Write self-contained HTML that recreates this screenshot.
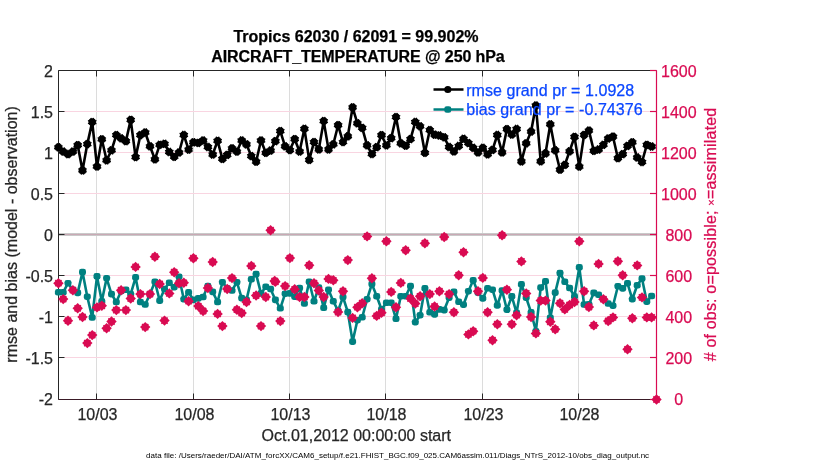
<!DOCTYPE html>
<html lang="en"><head><meta charset="utf-8"><title>AIRCRAFT_TEMPERATURE @ 250 hPa</title>
<style>text{stroke-width:0.25px;paint-order:stroke}html,body{margin:0;padding:0;background:#fff}body{width:830px;height:470px;overflow:hidden}svg{display:block}</style>
</head><body>
<svg width="830" height="470" viewBox="0 0 830 470">
<rect width="830" height="470" fill="#fff"/>
<g stroke="#dcdcdc" stroke-width="1" shape-rendering="crispEdges">
<line x1="96.5" y1="70.5" x2="96.5" y2="399.5"/>
<line x1="193.5" y1="70.5" x2="193.5" y2="399.5"/>
<line x1="289.5" y1="70.5" x2="289.5" y2="399.5"/>
<line x1="385.5" y1="70.5" x2="385.5" y2="399.5"/>
<line x1="482.5" y1="70.5" x2="482.5" y2="399.5"/>
<line x1="578.5" y1="70.5" x2="578.5" y2="399.5"/>
</g>
<g stroke="#f9d5e1" stroke-width="1" shape-rendering="crispEdges">
<line x1="58.5" y1="111.5" x2="656.5" y2="111.5"/>
<line x1="58.5" y1="152.5" x2="656.5" y2="152.5"/>
<line x1="58.5" y1="193.5" x2="656.5" y2="193.5"/>
<line x1="58.5" y1="234.5" x2="656.5" y2="234.5"/>
<line x1="58.5" y1="275.5" x2="656.5" y2="275.5"/>
<line x1="58.5" y1="316.5" x2="656.5" y2="316.5"/>
<line x1="58.5" y1="357.5" x2="656.5" y2="357.5"/>
</g>
<line x1="58.5" y1="234.5" x2="656.5" y2="234.5" stroke="#c9c9c9" stroke-width="3"/>
<line x1="58.5" y1="234.5" x2="656.5" y2="234.5" stroke="#c9a9b5" stroke-width="1"/>
<g stroke="#262626" stroke-width="1" fill="none">
<path d="M58.5 399.5V70.5H656.5"/>
<path d="M96.5 70.5v6M96.5 399.5v-6"/>
<path d="M193.5 70.5v6M193.5 399.5v-6"/>
<path d="M289.5 70.5v6M289.5 399.5v-6"/>
<path d="M385.5 70.5v6M385.5 399.5v-6"/>
<path d="M482.5 70.5v6M482.5 399.5v-6"/>
<path d="M578.5 70.5v6M578.5 399.5v-6"/>
<path d="M58.5 70.5h6"/>
<path d="M58.5 111.5h6"/>
<path d="M58.5 152.5h6"/>
<path d="M58.5 193.5h6"/>
<path d="M58.5 234.5h6"/>
<path d="M58.5 275.5h6"/>
<path d="M58.5 316.5h6"/>
<path d="M58.5 357.5h6"/>
<path d="M58.5 399.5h6"/>
</g>
<path d="M58.5 399.5H656.5" stroke="#3a1a26" stroke-width="1.1" fill="none"/>
<g stroke="#D90B52" stroke-width="1.2" fill="none">
<path d="M656.5 70.5V399.5"/>
<path d="M656.5 70.5h-6.5"/>
<path d="M656.5 111.5h-6.5"/>
<path d="M656.5 152.5h-6.5"/>
<path d="M656.5 193.5h-6.5"/>
<path d="M656.5 234.5h-6.5"/>
<path d="M656.5 275.5h-6.5"/>
<path d="M656.5 316.5h-6.5"/>
<path d="M656.5 357.5h-6.5"/>
<path d="M656.5 399.5h-6.5"/>
</g>
<defs>
<g id="mb"><circle r="3.85"/><path d="M-4.25 -1.6L4.25 1.6M-4.25 1.6L4.25 -1.6M-1.3 -4.2L1.3 4.2M-1.3 4.2L1.3 -4.2" stroke="#000" stroke-width="1.2" fill="none"/></g>
<rect id="mt" x="-3.5" y="-3.3" width="7" height="6.6" rx="2.4" fill="#008080"/>
<g id="mr"><path d="M0 -5.2L5.2 0L0 5.2L-5.2 0Z" fill="#D90B52"/><path d="M-3.1 -3.1L3.1 3.1M-3.1 3.1L3.1 -3.1" stroke="#D90B52" stroke-width="1.6" fill="none"/></g>
</defs>
<polyline points="58.4,147.3 63.2,151.6 68.0,154.2 72.9,151.6 77.7,145.2 82.5,170.4 87.3,144.1 92.2,122.1 97.0,166.5 101.8,139.3 106.6,160.3 111.5,150.3 116.3,135.1 121.1,138.3 125.9,141.2 130.7,119.9 135.6,157.1 140.4,135.1 145.2,132.5 150.0,146.3 154.9,159.3 159.7,144.8 164.5,143.8 169.3,152.0 174.2,156.8 179.0,152.5 183.8,135.0 188.6,149.6 193.4,142.3 198.3,142.9 203.1,140.5 207.9,147.0 212.7,154.5 217.6,140.8 222.4,158.9 227.2,154.9 232.0,148.4 236.9,151.6 241.7,140.5 246.5,144.4 251.3,156.1 256.1,161.7 261.0,140.5 265.8,152.8 270.6,150.6 275.4,141.2 280.3,131.1 285.1,146.3 289.9,150.1 294.7,139.2 299.6,151.5 304.4,128.8 309.2,159.9 314.0,142.1 318.8,149.4 323.7,121.1 328.5,149.4 333.3,144.3 338.1,125.2 343.0,142.1 347.8,136.3 352.6,107.4 357.4,123.3 362.2,127.9 367.1,145.3 371.9,154.0 376.7,147.2 381.5,135.2 386.4,145.3 391.2,138.2 396.0,117.1 400.8,143.3 405.7,145.7 410.5,139.1 415.3,122.0 420.1,126.3 424.9,152.8 429.8,130.1 434.6,134.7 439.4,135.5 444.2,137.3 449.1,147.0 453.9,151.4 458.7,146.0 463.5,138.8 468.4,143.1 473.2,147.8 478.0,152.4 482.8,147.8 487.6,154.3 492.5,149.9 497.3,135.0 502.1,152.4 506.9,129.2 511.8,134.5 516.6,129.0 521.4,161.4 526.2,143.3 531.1,131.6 535.9,105.5 540.7,161.3 545.5,153.4 550.3,124.3 555.2,150.3 560.0,169.7 564.8,164.9 569.6,151.3 574.5,136.9 579.3,166.6 584.1,134.9 588.9,130.6 593.8,150.8 598.6,149.5 603.4,144.8 608.2,138.5 613.0,136.7 617.9,158.2 622.7,154.2 627.5,145.9 632.3,142.3 637.2,157.5 642.0,162.0 646.8,144.9 651.6,146.5" fill="none" stroke="#000" stroke-width="2.6" stroke-linejoin="round"/>
<g fill="#000">
<use href="#mb" x="58.4" y="147.3"/>
<use href="#mb" x="63.2" y="151.6"/>
<use href="#mb" x="68.0" y="154.2"/>
<use href="#mb" x="72.9" y="151.6"/>
<use href="#mb" x="77.7" y="145.2"/>
<use href="#mb" x="82.5" y="170.4"/>
<use href="#mb" x="87.3" y="144.1"/>
<use href="#mb" x="92.2" y="122.1"/>
<use href="#mb" x="97.0" y="166.5"/>
<use href="#mb" x="101.8" y="139.3"/>
<use href="#mb" x="106.6" y="160.3"/>
<use href="#mb" x="111.5" y="150.3"/>
<use href="#mb" x="116.3" y="135.1"/>
<use href="#mb" x="121.1" y="138.3"/>
<use href="#mb" x="125.9" y="141.2"/>
<use href="#mb" x="130.7" y="119.9"/>
<use href="#mb" x="135.6" y="157.1"/>
<use href="#mb" x="140.4" y="135.1"/>
<use href="#mb" x="145.2" y="132.5"/>
<use href="#mb" x="150.0" y="146.3"/>
<use href="#mb" x="154.9" y="159.3"/>
<use href="#mb" x="159.7" y="144.8"/>
<use href="#mb" x="164.5" y="143.8"/>
<use href="#mb" x="169.3" y="152.0"/>
<use href="#mb" x="174.2" y="156.8"/>
<use href="#mb" x="179.0" y="152.5"/>
<use href="#mb" x="183.8" y="135.0"/>
<use href="#mb" x="188.6" y="149.6"/>
<use href="#mb" x="193.4" y="142.3"/>
<use href="#mb" x="198.3" y="142.9"/>
<use href="#mb" x="203.1" y="140.5"/>
<use href="#mb" x="207.9" y="147.0"/>
<use href="#mb" x="212.7" y="154.5"/>
<use href="#mb" x="217.6" y="140.8"/>
<use href="#mb" x="222.4" y="158.9"/>
<use href="#mb" x="227.2" y="154.9"/>
<use href="#mb" x="232.0" y="148.4"/>
<use href="#mb" x="236.9" y="151.6"/>
<use href="#mb" x="241.7" y="140.5"/>
<use href="#mb" x="246.5" y="144.4"/>
<use href="#mb" x="251.3" y="156.1"/>
<use href="#mb" x="256.1" y="161.7"/>
<use href="#mb" x="261.0" y="140.5"/>
<use href="#mb" x="265.8" y="152.8"/>
<use href="#mb" x="270.6" y="150.6"/>
<use href="#mb" x="275.4" y="141.2"/>
<use href="#mb" x="280.3" y="131.1"/>
<use href="#mb" x="285.1" y="146.3"/>
<use href="#mb" x="289.9" y="150.1"/>
<use href="#mb" x="294.7" y="139.2"/>
<use href="#mb" x="299.6" y="151.5"/>
<use href="#mb" x="304.4" y="128.8"/>
<use href="#mb" x="309.2" y="159.9"/>
<use href="#mb" x="314.0" y="142.1"/>
<use href="#mb" x="318.8" y="149.4"/>
<use href="#mb" x="323.7" y="121.1"/>
<use href="#mb" x="328.5" y="149.4"/>
<use href="#mb" x="333.3" y="144.3"/>
<use href="#mb" x="338.1" y="125.2"/>
<use href="#mb" x="343.0" y="142.1"/>
<use href="#mb" x="347.8" y="136.3"/>
<use href="#mb" x="352.6" y="107.4"/>
<use href="#mb" x="357.4" y="123.3"/>
<use href="#mb" x="362.2" y="127.9"/>
<use href="#mb" x="367.1" y="145.3"/>
<use href="#mb" x="371.9" y="154.0"/>
<use href="#mb" x="376.7" y="147.2"/>
<use href="#mb" x="381.5" y="135.2"/>
<use href="#mb" x="386.4" y="145.3"/>
<use href="#mb" x="391.2" y="138.2"/>
<use href="#mb" x="396.0" y="117.1"/>
<use href="#mb" x="400.8" y="143.3"/>
<use href="#mb" x="405.7" y="145.7"/>
<use href="#mb" x="410.5" y="139.1"/>
<use href="#mb" x="415.3" y="122.0"/>
<use href="#mb" x="420.1" y="126.3"/>
<use href="#mb" x="424.9" y="152.8"/>
<use href="#mb" x="429.8" y="130.1"/>
<use href="#mb" x="434.6" y="134.7"/>
<use href="#mb" x="439.4" y="135.5"/>
<use href="#mb" x="444.2" y="137.3"/>
<use href="#mb" x="449.1" y="147.0"/>
<use href="#mb" x="453.9" y="151.4"/>
<use href="#mb" x="458.7" y="146.0"/>
<use href="#mb" x="463.5" y="138.8"/>
<use href="#mb" x="468.4" y="143.1"/>
<use href="#mb" x="473.2" y="147.8"/>
<use href="#mb" x="478.0" y="152.4"/>
<use href="#mb" x="482.8" y="147.8"/>
<use href="#mb" x="487.6" y="154.3"/>
<use href="#mb" x="492.5" y="149.9"/>
<use href="#mb" x="497.3" y="135.0"/>
<use href="#mb" x="502.1" y="152.4"/>
<use href="#mb" x="506.9" y="129.2"/>
<use href="#mb" x="511.8" y="134.5"/>
<use href="#mb" x="516.6" y="129.0"/>
<use href="#mb" x="521.4" y="161.4"/>
<use href="#mb" x="526.2" y="143.3"/>
<use href="#mb" x="531.1" y="131.6"/>
<use href="#mb" x="535.9" y="105.5"/>
<use href="#mb" x="540.7" y="161.3"/>
<use href="#mb" x="545.5" y="153.4"/>
<use href="#mb" x="550.3" y="124.3"/>
<use href="#mb" x="555.2" y="150.3"/>
<use href="#mb" x="560.0" y="169.7"/>
<use href="#mb" x="564.8" y="164.9"/>
<use href="#mb" x="569.6" y="151.3"/>
<use href="#mb" x="574.5" y="136.9"/>
<use href="#mb" x="579.3" y="166.6"/>
<use href="#mb" x="584.1" y="134.9"/>
<use href="#mb" x="588.9" y="130.6"/>
<use href="#mb" x="593.8" y="150.8"/>
<use href="#mb" x="598.6" y="149.5"/>
<use href="#mb" x="603.4" y="144.8"/>
<use href="#mb" x="608.2" y="138.5"/>
<use href="#mb" x="613.0" y="136.7"/>
<use href="#mb" x="617.9" y="158.2"/>
<use href="#mb" x="622.7" y="154.2"/>
<use href="#mb" x="627.5" y="145.9"/>
<use href="#mb" x="632.3" y="142.3"/>
<use href="#mb" x="637.2" y="157.5"/>
<use href="#mb" x="642.0" y="162.0"/>
<use href="#mb" x="646.8" y="144.9"/>
<use href="#mb" x="651.6" y="146.5"/>
</g>
<polyline points="58.4,292.3 63.2,292.3 68.0,283.2 72.9,289.7 77.7,292.9 82.5,272.1 87.3,296.7 92.2,317.5 97.0,276.4 101.8,301.3 106.6,278.2 111.5,294.1 116.3,302.0 121.1,291.2 125.9,289.7 130.7,294.1 135.6,277.4 140.4,302.0 145.2,304.5 150.0,294.1 154.9,281.8 159.7,300.6 164.5,289.0 169.3,282.8 174.2,287.2 179.0,276.7 183.8,299.2 188.6,292.3 193.4,299.9 198.3,298.4 203.1,297.0 207.9,286.1 212.7,291.9 217.6,302.0 222.4,282.2 227.2,288.3 232.0,290.5 236.9,282.2 241.7,298.1 246.5,299.9 251.3,279.3 256.1,274.1 261.0,293.4 265.8,286.8 270.6,289.0 275.4,299.9 280.3,308.3 285.1,293.7 289.9,293.4 294.7,296.7 299.6,288.0 304.4,303.5 309.2,281.8 314.0,301.3 318.8,287.6 323.7,307.8 328.5,289.7 333.3,301.3 338.1,310.7 343.0,297.0 347.8,312.1 352.6,341.6 357.4,320.2 362.2,317.3 367.1,299.2 371.9,284.0 376.7,296.3 381.5,309.3 386.4,302.8 391.2,302.8 396.0,318.8 400.8,296.3 405.7,296.3 410.5,286.1 415.3,322.2 420.1,315.2 424.9,288.3 429.8,312.3 434.6,314.4 439.4,309.4 444.2,310.1 449.1,297.7 453.9,291.9 458.7,301.8 463.5,304.7 468.4,291.2 473.2,280.3 478.0,292.6 482.8,298.4 487.6,288.3 492.5,289.7 497.3,305.4 502.1,290.5 506.9,309.7 511.8,296.3 516.6,312.9 521.4,284.3 526.2,297.7 531.1,312.3 535.9,331.2 540.7,287.6 545.5,281.3 550.3,317.7 555.2,292.6 560.0,273.1 564.8,281.8 569.6,288.0 574.5,296.3 579.3,267.4 584.1,304.5 588.9,304.2 593.8,292.9 598.6,294.8 603.4,299.2 608.2,303.5 613.0,305.7 617.9,286.2 622.7,288.4 627.5,283.3 632.3,299.2 637.2,285.3 642.0,278.6 646.8,301.7 651.6,296.0" fill="none" stroke="#008080" stroke-width="2.6" stroke-linejoin="round"/>
<use href="#mt" x="58.4" y="292.3"/>
<use href="#mt" x="63.2" y="292.3"/>
<use href="#mt" x="68.0" y="283.2"/>
<use href="#mt" x="72.9" y="289.7"/>
<use href="#mt" x="77.7" y="292.9"/>
<use href="#mt" x="82.5" y="272.1"/>
<use href="#mt" x="87.3" y="296.7"/>
<use href="#mt" x="92.2" y="317.5"/>
<use href="#mt" x="97.0" y="276.4"/>
<use href="#mt" x="101.8" y="301.3"/>
<use href="#mt" x="106.6" y="278.2"/>
<use href="#mt" x="111.5" y="294.1"/>
<use href="#mt" x="116.3" y="302.0"/>
<use href="#mt" x="121.1" y="291.2"/>
<use href="#mt" x="125.9" y="289.7"/>
<use href="#mt" x="130.7" y="294.1"/>
<use href="#mt" x="135.6" y="277.4"/>
<use href="#mt" x="140.4" y="302.0"/>
<use href="#mt" x="145.2" y="304.5"/>
<use href="#mt" x="150.0" y="294.1"/>
<use href="#mt" x="154.9" y="281.8"/>
<use href="#mt" x="159.7" y="300.6"/>
<use href="#mt" x="164.5" y="289.0"/>
<use href="#mt" x="169.3" y="282.8"/>
<use href="#mt" x="174.2" y="287.2"/>
<use href="#mt" x="179.0" y="276.7"/>
<use href="#mt" x="183.8" y="299.2"/>
<use href="#mt" x="188.6" y="292.3"/>
<use href="#mt" x="193.4" y="299.9"/>
<use href="#mt" x="198.3" y="298.4"/>
<use href="#mt" x="203.1" y="297.0"/>
<use href="#mt" x="207.9" y="286.1"/>
<use href="#mt" x="212.7" y="291.9"/>
<use href="#mt" x="217.6" y="302.0"/>
<use href="#mt" x="222.4" y="282.2"/>
<use href="#mt" x="227.2" y="288.3"/>
<use href="#mt" x="232.0" y="290.5"/>
<use href="#mt" x="236.9" y="282.2"/>
<use href="#mt" x="241.7" y="298.1"/>
<use href="#mt" x="246.5" y="299.9"/>
<use href="#mt" x="251.3" y="279.3"/>
<use href="#mt" x="256.1" y="274.1"/>
<use href="#mt" x="261.0" y="293.4"/>
<use href="#mt" x="265.8" y="286.8"/>
<use href="#mt" x="270.6" y="289.0"/>
<use href="#mt" x="275.4" y="299.9"/>
<use href="#mt" x="280.3" y="308.3"/>
<use href="#mt" x="285.1" y="293.7"/>
<use href="#mt" x="289.9" y="293.4"/>
<use href="#mt" x="294.7" y="296.7"/>
<use href="#mt" x="299.6" y="288.0"/>
<use href="#mt" x="304.4" y="303.5"/>
<use href="#mt" x="309.2" y="281.8"/>
<use href="#mt" x="314.0" y="301.3"/>
<use href="#mt" x="318.8" y="287.6"/>
<use href="#mt" x="323.7" y="307.8"/>
<use href="#mt" x="328.5" y="289.7"/>
<use href="#mt" x="333.3" y="301.3"/>
<use href="#mt" x="338.1" y="310.7"/>
<use href="#mt" x="343.0" y="297.0"/>
<use href="#mt" x="347.8" y="312.1"/>
<use href="#mt" x="352.6" y="341.6"/>
<use href="#mt" x="357.4" y="320.2"/>
<use href="#mt" x="362.2" y="317.3"/>
<use href="#mt" x="367.1" y="299.2"/>
<use href="#mt" x="371.9" y="284.0"/>
<use href="#mt" x="376.7" y="296.3"/>
<use href="#mt" x="381.5" y="309.3"/>
<use href="#mt" x="386.4" y="302.8"/>
<use href="#mt" x="391.2" y="302.8"/>
<use href="#mt" x="396.0" y="318.8"/>
<use href="#mt" x="400.8" y="296.3"/>
<use href="#mt" x="405.7" y="296.3"/>
<use href="#mt" x="410.5" y="286.1"/>
<use href="#mt" x="415.3" y="322.2"/>
<use href="#mt" x="420.1" y="315.2"/>
<use href="#mt" x="424.9" y="288.3"/>
<use href="#mt" x="429.8" y="312.3"/>
<use href="#mt" x="434.6" y="314.4"/>
<use href="#mt" x="439.4" y="309.4"/>
<use href="#mt" x="444.2" y="310.1"/>
<use href="#mt" x="449.1" y="297.7"/>
<use href="#mt" x="453.9" y="291.9"/>
<use href="#mt" x="458.7" y="301.8"/>
<use href="#mt" x="463.5" y="304.7"/>
<use href="#mt" x="468.4" y="291.2"/>
<use href="#mt" x="473.2" y="280.3"/>
<use href="#mt" x="478.0" y="292.6"/>
<use href="#mt" x="482.8" y="298.4"/>
<use href="#mt" x="487.6" y="288.3"/>
<use href="#mt" x="492.5" y="289.7"/>
<use href="#mt" x="497.3" y="305.4"/>
<use href="#mt" x="502.1" y="290.5"/>
<use href="#mt" x="506.9" y="309.7"/>
<use href="#mt" x="511.8" y="296.3"/>
<use href="#mt" x="516.6" y="312.9"/>
<use href="#mt" x="521.4" y="284.3"/>
<use href="#mt" x="526.2" y="297.7"/>
<use href="#mt" x="531.1" y="312.3"/>
<use href="#mt" x="535.9" y="331.2"/>
<use href="#mt" x="540.7" y="287.6"/>
<use href="#mt" x="545.5" y="281.3"/>
<use href="#mt" x="550.3" y="317.7"/>
<use href="#mt" x="555.2" y="292.6"/>
<use href="#mt" x="560.0" y="273.1"/>
<use href="#mt" x="564.8" y="281.8"/>
<use href="#mt" x="569.6" y="288.0"/>
<use href="#mt" x="574.5" y="296.3"/>
<use href="#mt" x="579.3" y="267.4"/>
<use href="#mt" x="584.1" y="304.5"/>
<use href="#mt" x="588.9" y="304.2"/>
<use href="#mt" x="593.8" y="292.9"/>
<use href="#mt" x="598.6" y="294.8"/>
<use href="#mt" x="603.4" y="299.2"/>
<use href="#mt" x="608.2" y="303.5"/>
<use href="#mt" x="613.0" y="305.7"/>
<use href="#mt" x="617.9" y="286.2"/>
<use href="#mt" x="622.7" y="288.4"/>
<use href="#mt" x="627.5" y="283.3"/>
<use href="#mt" x="632.3" y="299.2"/>
<use href="#mt" x="637.2" y="285.3"/>
<use href="#mt" x="642.0" y="278.6"/>
<use href="#mt" x="646.8" y="301.7"/>
<use href="#mt" x="651.6" y="296.0"/>
<use href="#mr" x="58.4" y="283.2"/>
<use href="#mr" x="63.2" y="299.1"/>
<use href="#mr" x="68.0" y="320.7"/>
<use href="#mr" x="72.9" y="290.2"/>
<use href="#mr" x="77.7" y="308.3"/>
<use href="#mr" x="82.5" y="317.0"/>
<use href="#mr" x="87.3" y="343.1"/>
<use href="#mr" x="92.2" y="335.1"/>
<use href="#mr" x="97.0" y="307.4"/>
<use href="#mr" x="101.8" y="305.8"/>
<use href="#mr" x="106.6" y="328.3"/>
<use href="#mr" x="111.5" y="321.5"/>
<use href="#mr" x="116.3" y="310.1"/>
<use href="#mr" x="121.1" y="290.2"/>
<use href="#mr" x="125.9" y="310.1"/>
<use href="#mr" x="130.7" y="298.5"/>
<use href="#mr" x="135.6" y="266.9"/>
<use href="#mr" x="140.4" y="294.1"/>
<use href="#mr" x="145.2" y="327.1"/>
<use href="#mr" x="150.0" y="294.1"/>
<use href="#mr" x="154.9" y="256.7"/>
<use href="#mr" x="159.7" y="284.0"/>
<use href="#mr" x="164.5" y="320.6"/>
<use href="#mr" x="169.3" y="293.4"/>
<use href="#mr" x="174.2" y="272.2"/>
<use href="#mr" x="179.0" y="283.2"/>
<use href="#mr" x="183.8" y="282.8"/>
<use href="#mr" x="188.6" y="301.2"/>
<use href="#mr" x="193.4" y="258.2"/>
<use href="#mr" x="198.3" y="306.1"/>
<use href="#mr" x="203.1" y="311.0"/>
<use href="#mr" x="207.9" y="288.0"/>
<use href="#mr" x="212.7" y="262.0"/>
<use href="#mr" x="217.6" y="313.9"/>
<use href="#mr" x="222.4" y="326.1"/>
<use href="#mr" x="227.2" y="289.0"/>
<use href="#mr" x="232.0" y="278.1"/>
<use href="#mr" x="236.9" y="309.7"/>
<use href="#mr" x="241.7" y="313.0"/>
<use href="#mr" x="246.5" y="302.0"/>
<use href="#mr" x="251.3" y="265.9"/>
<use href="#mr" x="256.1" y="295.5"/>
<use href="#mr" x="261.0" y="326.1"/>
<use href="#mr" x="265.8" y="297.0"/>
<use href="#mr" x="270.6" y="230.2"/>
<use href="#mr" x="275.4" y="281.8"/>
<use href="#mr" x="280.3" y="321.1"/>
<use href="#mr" x="285.1" y="286.1"/>
<use href="#mr" x="289.9" y="258.1"/>
<use href="#mr" x="294.7" y="289.3"/>
<use href="#mr" x="299.6" y="297.0"/>
<use href="#mr" x="304.4" y="297.0"/>
<use href="#mr" x="309.2" y="265.3"/>
<use href="#mr" x="314.0" y="283.2"/>
<use href="#mr" x="318.8" y="290.5"/>
<use href="#mr" x="323.7" y="297.0"/>
<use href="#mr" x="328.5" y="278.9"/>
<use href="#mr" x="333.3" y="280.3"/>
<use href="#mr" x="338.1" y="312.1"/>
<use href="#mr" x="343.0" y="291.2"/>
<use href="#mr" x="347.8" y="260.1"/>
<use href="#mr" x="352.6" y="317.9"/>
<use href="#mr" x="357.4" y="307.2"/>
<use href="#mr" x="362.2" y="303.2"/>
<use href="#mr" x="367.1" y="236.4"/>
<use href="#mr" x="371.9" y="278.2"/>
<use href="#mr" x="376.7" y="315.9"/>
<use href="#mr" x="381.5" y="312.8"/>
<use href="#mr" x="386.4" y="241.3"/>
<use href="#mr" x="391.2" y="291.9"/>
<use href="#mr" x="396.0" y="307.2"/>
<use href="#mr" x="400.8" y="282.9"/>
<use href="#mr" x="405.7" y="250.2"/>
<use href="#mr" x="410.5" y="298.5"/>
<use href="#mr" x="415.3" y="303.6"/>
<use href="#mr" x="420.1" y="296.3"/>
<use href="#mr" x="424.9" y="243.2"/>
<use href="#mr" x="429.8" y="294.1"/>
<use href="#mr" x="434.6" y="306.5"/>
<use href="#mr" x="439.4" y="291.2"/>
<use href="#mr" x="444.2" y="237.0"/>
<use href="#mr" x="449.1" y="294.1"/>
<use href="#mr" x="453.9" y="312.3"/>
<use href="#mr" x="458.7" y="275.2"/>
<use href="#mr" x="463.5" y="252.2"/>
<use href="#mr" x="468.4" y="334.4"/>
<use href="#mr" x="473.2" y="331.2"/>
<use href="#mr" x="478.0" y="291.2"/>
<use href="#mr" x="482.8" y="277.9"/>
<use href="#mr" x="487.6" y="312.3"/>
<use href="#mr" x="492.5" y="340.2"/>
<use href="#mr" x="497.3" y="324.2"/>
<use href="#mr" x="502.1" y="235.3"/>
<use href="#mr" x="506.9" y="289.7"/>
<use href="#mr" x="511.8" y="324.2"/>
<use href="#mr" x="516.6" y="315.2"/>
<use href="#mr" x="521.4" y="261.4"/>
<use href="#mr" x="526.2" y="293.4"/>
<use href="#mr" x="531.1" y="317.0"/>
<use href="#mr" x="535.9" y="333.4"/>
<use href="#mr" x="540.7" y="300.6"/>
<use href="#mr" x="545.5" y="300.6"/>
<use href="#mr" x="550.3" y="321.8"/>
<use href="#mr" x="555.2" y="329.3"/>
<use href="#mr" x="560.0" y="303.2"/>
<use href="#mr" x="564.8" y="309.4"/>
<use href="#mr" x="569.6" y="305.0"/>
<use href="#mr" x="574.5" y="302.0"/>
<use href="#mr" x="579.3" y="241.3"/>
<use href="#mr" x="584.1" y="291.2"/>
<use href="#mr" x="588.9" y="307.0"/>
<use href="#mr" x="593.8" y="325.4"/>
<use href="#mr" x="598.6" y="263.9"/>
<use href="#mr" x="603.4" y="299.2"/>
<use href="#mr" x="608.2" y="321.0"/>
<use href="#mr" x="613.0" y="317.4"/>
<use href="#mr" x="617.9" y="261.2"/>
<use href="#mr" x="622.7" y="275.2"/>
<use href="#mr" x="627.5" y="349.3"/>
<use href="#mr" x="632.3" y="318.3"/>
<use href="#mr" x="637.2" y="265.4"/>
<use href="#mr" x="642.0" y="297.4"/>
<use href="#mr" x="646.8" y="317.4"/>
<use href="#mr" x="651.6" y="317.4"/>
<use href="#mr" x="274.6" y="281.0"/>
<use href="#mr" x="656.5" y="399.5"/>
<path d="M433.5 89.5H463.5" stroke="#000" stroke-width="2.5"/><circle cx="447.8" cy="89.5" r="3.6" fill="#000"/>
<path d="M433.5 109.5H463.5" stroke="#008080" stroke-width="2.5"/><use href="#mt" x="447.8" y="109.5"/>
<g font-family="Liberation Sans, Arial, Helvetica, sans-serif" font-size="16px" fill="#0A46FF" stroke="#0A46FF">
<text x="466.2" y="95.6" textLength="168" lengthAdjust="spacing">rmse grand pr = 1.0928</text>
<text x="466.2" y="114.9" textLength="176.5" lengthAdjust="spacing">bias grand pr = -0.74376</text>
</g>
<g font-family="Liberation Sans, Arial, Helvetica, sans-serif" font-size="16px" fill="#262626" stroke="#262626" text-anchor="end">
<text x="53" y="76.8">2</text>
<text x="53" y="117.8">1.5</text>
<text x="53" y="158.8">1</text>
<text x="53" y="199.8">0.5</text>
<text x="53" y="240.8">0</text>
<text x="53" y="281.8">-0.5</text>
<text x="53" y="322.8">-1</text>
<text x="53" y="363.8">-1.5</text>
<text x="53" y="405.2">-2</text>
</g>
<g font-family="Liberation Sans, Arial, Helvetica, sans-serif" font-size="16px" fill="#D90B52" stroke="#D90B52">
<text x="661.00" y="76.6">1600</text>
<text x="661.00" y="117.6">1400</text>
<text x="661.00" y="158.6">1200</text>
<text x="661.00" y="199.6">1000</text>
<text x="665.45" y="240.6">800</text>
<text x="665.45" y="281.6">600</text>
<text x="665.45" y="322.6">400</text>
<text x="665.45" y="363.6">200</text>
<text x="674.35" y="405.0">0</text>
</g>
<g font-family="Liberation Sans, Arial, Helvetica, sans-serif" font-size="16px" fill="#262626" stroke="#262626" text-anchor="middle">
<text x="97.5" y="420">10/03</text>
<text x="194.5" y="420">10/08</text>
<text x="290.5" y="420">10/13</text>
<text x="386.5" y="420">10/18</text>
<text x="483.5" y="420">10/23</text>
<text x="579.5" y="420">10/28</text>
</g>
<text font-family="Liberation Sans, Arial, Helvetica, sans-serif" font-size="16px" fill="#262626" stroke="#262626" text-anchor="middle" x="356.3" y="440.8">Oct.01,2012 00:00:00 start</text>
<text font-family="Liberation Sans, Arial, Helvetica, sans-serif" font-size="8px" fill="#000" stroke="none" text-anchor="middle" x="397.6" y="457.6" textLength="503" lengthAdjust="spacing">data file: /Users/raeder/DAI/ATM_forcXX/CAM6_setup/f.e21.FHIST_BGC.f09_025.CAM6assim.011/Diags_NTrS_2012-10/obs_diag_output.nc</text>
<g font-family="Liberation Sans, Arial, Helvetica, sans-serif" font-size="16px" font-weight="bold" fill="#000" stroke="#000" text-anchor="middle">
<text x="356" y="41.7">Tropics 62030 / 62091 = 99.902%</text>
<text x="358" y="61.6" textLength="293.5" lengthAdjust="spacing">AIRCRAFT_TEMPERATURE @ 250 hPa</text>
</g>
<text font-family="Liberation Sans, Arial, Helvetica, sans-serif" font-size="16px" fill="#262626" stroke="#262626" text-anchor="middle" transform="translate(16.6 234.4) rotate(-90)" textLength="256.5" lengthAdjust="spacing">rmse and bias (model - observation)</text>
<text font-family="Liberation Sans, Arial, Helvetica, sans-serif" font-size="16px" fill="#D90B52" stroke="#D90B52" text-anchor="middle" transform="translate(716 234.5) rotate(-90)" textLength="253.5" lengthAdjust="spacing"># of obs: o=possible; <tspan font-size="11px" dy="-1">×</tspan><tspan dy="1">=assimilated</tspan></text>
</svg>
</body></html>
